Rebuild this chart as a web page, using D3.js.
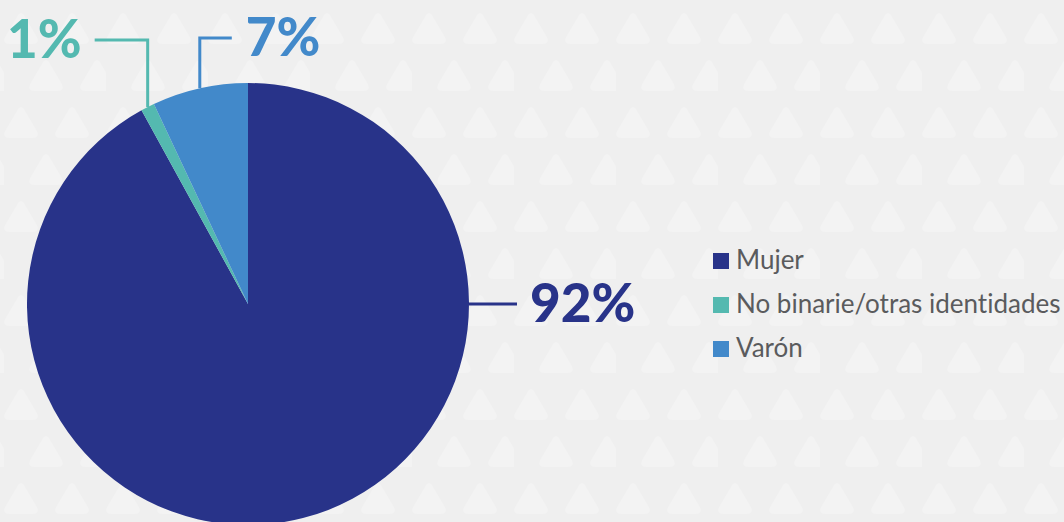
<!DOCTYPE html>
<html>
<head>
<meta charset="utf-8">
<script src="https://cdn.jsdelivr.net/npm/d3@7"></script>
<style>
  html, body { margin: 0; padding: 0; background: #efefef; }
  svg { display: block; }
</style>
</head>
<body>
<svg id="chart"></svg>
<script>
// data
const categories = ['Mujer', 'No binarie/otras identidades', 'Varón'];
const values = [92, 1, 7];
const labels = ['92%', '1%', '7%'];
const colors = ['#283389', '#54b9b0', '#4289ca'];

const width = 1064;
const height = 522;
const cx = 248;
const cy = 304;
const radius = 221;

const svg = d3.select('#chart')
    .attr('width', width)
    .attr('height', height);

// background with soft triangle pattern
const defs = svg.append('defs');
const pat = defs.append('pattern')
    .attr('id', 'tri')
    .attr('patternUnits', 'userSpaceOnUse')
    .attr('x', 4)
    .attr('y', 12)
    .attr('width', 102)
    .attr('height', 94);
pat.append('rect').attr('width', 102).attr('height', 94).attr('fill', '#efefef');
const triPath = 'M14,3 Q17,-1 20,3 L33,25 Q36,32 29,32 L5,32 Q-2,32 1,25 Z';
[[0, 0], [51, 0], [25, 47], [76, 47]].forEach(([tx, ty]) => {
    pat.append('path')
        .attr('d', triPath)
        .attr('transform', `translate(${tx},${ty})`)
        .attr('fill', '#f3f3f3');
});
svg.append('rect')
    .attr('width', width)
    .attr('height', height)
    .attr('fill', 'url(#tri)');

const data = categories.map((c, i) => ({ name: c, value: values[i], label: labels[i], color: colors[i] }));

const pie = d3.pie().sort(null).value((d) => d.value);
const arcs = pie(data);
const arc = d3.arc().innerRadius(0).outerRadius(radius);

const g = svg.append('g').attr('transform', `translate(${cx},${cy})`);

g.selectAll('path.slice')
    .data(arcs)
    .enter()
    .append('path')
    .attr('class', 'slice')
    .attr('d', arc)
    .attr('fill', (d) => d.data.color);

// label layout: anchor on the rim, elbow, end of line, text side
const pointAt = (a, r) => [r * Math.sin(a), -r * Math.cos(a)];
const labelFont = "'Lato', sans-serif";

arcs.forEach((d, i) => {
    let pts;
    let tx, ty, anchor;
    if (i === 0) {
        const p = pointAt(Math.PI / 2, radius);
        pts = [p, [p[0] + 48, p[1]]];
        tx = p[0] + 61; ty = p[1] + 18; anchor = 'start';
    } else {
        const mid = (d.startAngle + d.endAngle) / 2;
        const p = pointAt(mid, radius);
        const elbowY = -264 + (i === 2 ? -2 : 0);
        const dx = i === 1 ? -53 : 32;
        pts = [p, [p[0], elbowY], [p[0] + dx, elbowY]];
        tx = p[0] + dx + (i === 1 ? -13 : 14);
        ty = elbowY + 18;
        anchor = i === 1 ? 'end' : 'start';
    }
    g.append('path')
        .attr('d', d3.line()(pts))
        .attr('fill', 'none')
        .attr('stroke', d.data.color)
        .attr('stroke-width', 3);
    g.append('text')
        .attr('x', tx)
        .attr('y', ty)
        .attr('text-anchor', anchor)
        .attr('fill', d.data.color)
        .style('font-family', labelFont)
        .style('font-weight', 900)
        .style('font-size', '53px')
        .text(d.data.label);
});

// legend
const legend = svg.append('g').attr('transform', 'translate(713,269)');
const row = legend.selectAll('g')
    .data(data)
    .enter()
    .append('g')
    .attr('transform', (d, i) => `translate(0,${i * 44})`);
row.append('rect')
    .attr('x', 0)
    .attr('y', -16)
    .attr('width', 16)
    .attr('height', 16)
    .attr('fill', (d) => d.color);
row.append('text')
    .attr('x', 23)
    .attr('y', 0)
    .attr('fill', '#5a5b5d')
    .style('font-family', "'Lato', sans-serif")
    .style('font-size', '26px')
    .style('font-variant-ligatures', 'none')
    .text((d) => d.name);
</script>
</body>
</html>
